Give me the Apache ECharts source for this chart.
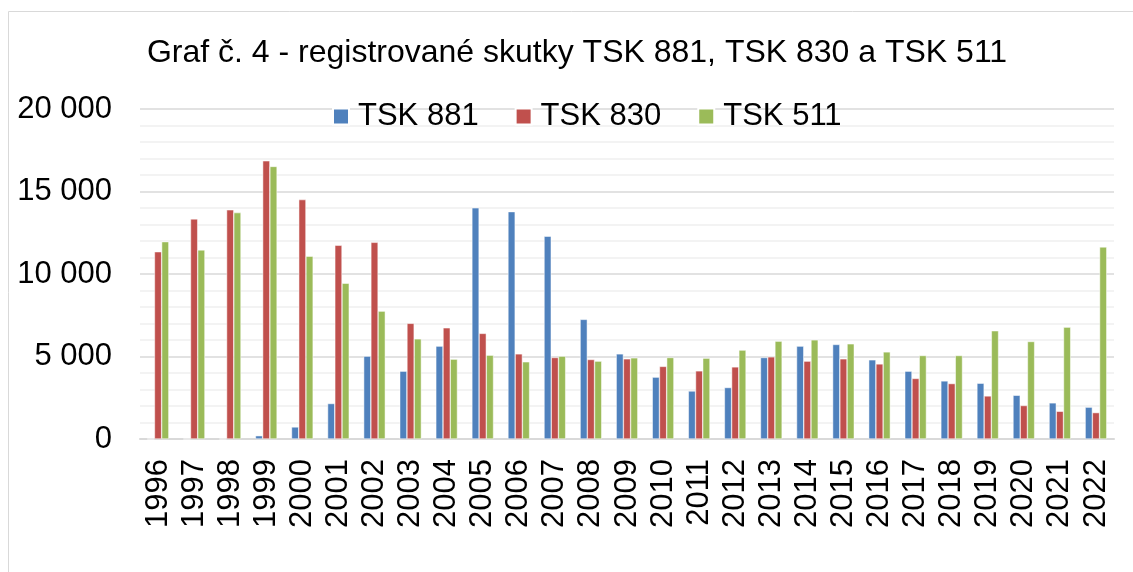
<!DOCTYPE html>
<html>
<head>
<meta charset="utf-8">
<script src="https://cdn.jsdelivr.net/npm/echarts@6/dist/echarts.min.js"></script>
<style>
  html, body { margin: 0; padding: 0; background: #fff; }
  #chart { width: 1133px; height: 572px; }
</style>
</head>
<body>
<div id="chart"></div>
<script>
// roky a hodnoty
const years = ['1996', '1997', '1998', '1999', '2000', '2001', '2002', '2003', '2004',
  '2005', '2006', '2007', '2008', '2009', '2010', '2011', '2012', '2013', '2014',
  '2015', '2016', '2017', '2018', '2019', '2020', '2021', '2022'];
const tsk881 = [0, 0, 0, 200, 730, 2150, 5020, 4110, 5630,
  14010, 13780, 12290, 7250, 5160, 3750, 2910, 3120, 4940, 5630,
  5730, 4800, 4110, 3520, 3380, 2650, 2190, 1930];
const tsk830 = [11350, 13340, 13890, 16860, 14510, 11740, 11920, 7010, 6740,
  6400, 5160, 4940, 4820, 4860, 4400, 4130, 4370, 4980, 4720,
  4860, 4550, 3670, 3360, 2610, 2030, 1680, 1600];
const tsk511 = [11960, 11460, 13720, 16520, 11080, 9440, 7750, 6070, 4840,
  5080, 4680, 5020, 4720, 4920, 4940, 4900, 5390, 5930, 6010,
  5770, 5280, 5060, 5060, 6560, 5910, 6780, 11640];

const font = 'Liberation Sans, Arial, sans-serif';

const chart = echarts.init(document.getElementById('chart'));

function fmt(v) {
  return String(v).replace(/\B(?=(\d{3})+(?!\d))/g, ' ');
}

function barSeries(name, data, color) {
  return {
    name: name,
    type: 'bar',
    data: data,
    barGap: '0%',
    barCategoryGap: '40%',
    itemStyle: { color: color, borderColor: '#fff', borderWidth: 0.5 }
  };
}

chart.setOption({
  animation: false,
  textStyle: { fontFamily: font },
  title: {
    text: 'Graf č. 4 - registrované skutky TSK 881, TSK 830 a TSK 511',
    left: 572,
    textAlign: 'center',
    top: 32,
    textStyle: { fontSize: 32, fontWeight: 'normal', color: '#000', fontFamily: font }
  },
  legend: {
    left: 327,
    top: 96,
    itemWidth: 16,
    itemHeight: 16,
    itemGap: 36,
    icon: 'rect',
    textStyle: { fontSize: 31, color: '#000', fontFamily: font, padding: [0, 0, 0, 4] },
    data: ['TSK 881', 'TSK 830', 'TSK 511']
  },
  graphic: [{
    type: 'rect',
    shape: { x: 8.5, y: 11.5, width: 1300, height: 800 },
    style: { fill: 'none', stroke: '#d9d9d9', lineWidth: 1 },
    silent: true
  }],
  grid: { left: 140, right: 19, top: 109, bottom: 133, containLabel: false },
  xAxis: {
    type: 'category',
    data: years,
    axisLine: { lineStyle: { color: '#d9d9d9', width: 2 } },
    axisTick: { show: false },
    axisLabel: { rotate: 90, margin: 20, fontSize: 31, color: '#000', fontFamily: font, interval: 0 }
  },
  yAxis: {
    type: 'value',
    min: 0,
    max: 20000,
    interval: 5000,
    axisLine: { show: false },
    axisTick: { show: false },
    axisLabel: { margin: 28, fontSize: 31, color: '#000', fontFamily: font, formatter: fmt },
    splitLine: { lineStyle: { color: '#d9d9d9', width: 1.5 } },
    minorTick: { show: false, splitNumber: 5 },
    minorSplitLine: { show: true, lineStyle: { color: '#f0f0f0', width: 1.5 } }
  },
  series: [
    barSeries('TSK 881', tsk881, '#4f81bd'),
    barSeries('TSK 830', tsk830, '#c0504d'),
    barSeries('TSK 511', tsk511, '#9bbb59')
  ]
});
</script>
</body>
</html>
